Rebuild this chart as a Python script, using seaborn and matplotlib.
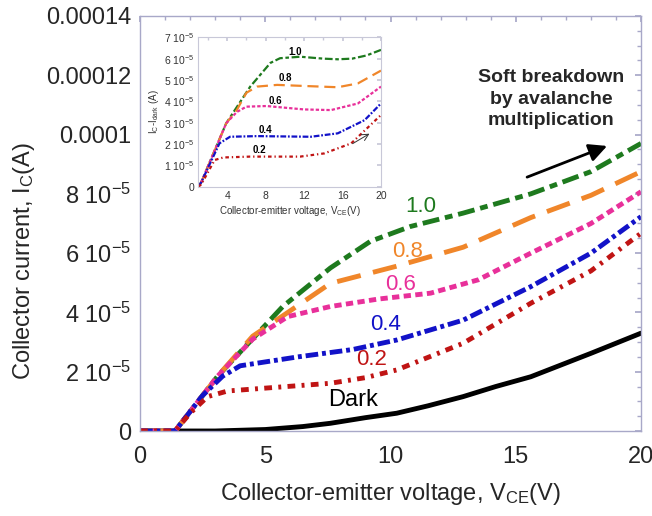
import numpy as np
import pandas as pd
import seaborn as sns
import matplotlib
matplotlib.use("Agg")
import matplotlib.pyplot as plt
from matplotlib.ticker import MultipleLocator

# main plot data: V_CE (V) and I_C (units of 1e-5 A)
v_10 = [0, 1.4, 3.1, 5.7, 7.6, 9.2, 10.8, 12.9, 15.6, 18, 20]
i_10 = [0, 0, 1.85, 4.2, 5.5, 6.4, 6.9, 7.35, 8.0, 8.75, 9.7]
v_08 = [0, 1.4, 3.1, 4.5, 5.9, 7.6, 10.2, 12.9, 15.6, 18, 20]
i_08 = [0, 0, 1.85, 3.2, 4.0, 4.98, 5.55, 6.2, 7.2, 7.95, 8.75]
v_06 = [0, 1.4, 3.1, 4.5, 5.9, 7.6, 9.5, 11.6, 13.5, 15.6, 18, 20]
i_06 = [0, 0, 1.85, 3.1, 3.86, 4.2, 4.45, 4.65, 5.1, 6.0, 7.0, 8.07]
v_04 = [0, 1.4, 2.5, 3.3, 4.0, 6.3, 8.5, 10.25, 12.9, 15.6, 18, 20]
i_04 = [0, 0, 1.2, 1.85, 2.2, 2.5, 2.75, 3.07, 3.74, 4.87, 6.0, 7.23]
v_02 = [0, 1.4, 2.0, 2.7, 3.5, 4.9, 7.6, 9.0, 10.25, 12.9, 15.6, 18, 20]
i_02 = [0, 0, 0.6, 1.16, 1.35, 1.44, 1.61, 1.8, 2.06, 2.96, 4.31, 5.4, 6.67]
v_dark = [0, 3, 5, 6.5, 7.6, 9, 10.25, 11.5, 12.9, 14.2, 15.6, 18, 20]
i_dark = [0, 0, 0.05, 0.15, 0.26, 0.45, 0.6, 0.85, 1.16, 1.5, 1.83, 2.62, 3.3]

# inset data: I_C - I_dark (units of 1e-5 A)
iv_10 = [1, 1.3, 3.9, 6.4, 8.5, 9.5, 11.6, 14, 15.5, 17, 18.5, 20]
ii_10 = [0, 0.2, 2.97, 4.69, 5.8, 6.02, 6.09, 6.0, 5.97, 6.0, 6.15, 6.41]
iv_08 = [1, 1.3, 3.9, 5.0, 6.0, 7.1, 9.2, 12, 15.5, 17.6, 20]
ii_08 = [0, 0.2, 2.97, 3.59, 4.4, 4.69, 4.77, 4.72, 4.66, 4.84, 5.44]
iv_06 = [1, 1.3, 3.9, 5.0, 6.0, 8.1, 12, 14.8, 17.6, 20]
ii_06 = [0, 0.2, 2.97, 3.5, 3.75, 3.78, 3.62, 3.59, 3.9, 4.69]
iv_04 = [1, 1.3, 3.2, 4.3, 7.1, 12.7, 15.5, 18.3, 20]
ii_04 = [0, 0.2, 2.03, 2.34, 2.37, 2.34, 2.5, 3.12, 3.9]
iv_02 = [1, 1.3, 2.7, 3.6, 6.4, 11.6, 14.1, 16.9, 20]
ii_02 = [0, 0.1, 1.25, 1.37, 1.41, 1.41, 1.56, 2.03, 3.36]

main_yticks = [0, 2e-5, 4e-5, 6e-5, 8e-5, 1e-4, 1.2e-4, 1.4e-4]
main_ylabels = ["0", "2 10$^{-5}$", "4 10$^{-5}$", "6 10$^{-5}$", "8 10$^{-5}$",
                "0.0001", "0.00012", "0.00014"]
inset_yticks = [0, 1e-5, 2e-5, 3e-5, 4e-5, 5e-5, 6e-5, 7e-5]
inset_ylabels = ["0"] + [f"{k} 10$^{{-5}}$" for k in range(1, 8)]

sns.set_theme(style="white")
plt.rcParams["font.family"] = ["Liberation Sans", "DejaVu Sans"]
plt.rcParams["mathtext.default"] = "regular"

styles = {
    "1.0": ("#1e7a1e", (0, (3.5, 1.2, 1.6, 1.2))),
    "0.8": ("#f0862a", (0, (5, 2.6))),
    "0.6": ("#e8309a", (0, (1.5, 0.9))),
    "0.4": ("#1212c8", (0, (2.6, 0.8, 0.8, 0.8))),
    "0.2": ("#c01414", (0, (1.6, 1.3, 0.6, 1.3))),
}

fig = plt.figure(figsize=(6.52, 5.16), dpi=100)
ax = fig.add_axes([140 / 652, 85 / 516, 501 / 652, 415 / 516])

main_series = [("1.0", v_10, i_10), ("0.8", v_08, i_08), ("0.6", v_06, i_06),
               ("0.4", v_04, i_04), ("0.2", v_02, i_02)]
sns.lineplot(x=v_dark, y=np.array(i_dark) * 1e-5, ax=ax, color="black", lw=3.5)
for key, v, i in main_series:
    col, ls = styles[key]
    sns.lineplot(x=v, y=np.array(i) * 1e-5, ax=ax, color=col, lw=3.5, linestyle=ls)

ax.set_xlim(0, 20)
ax.set_ylim(0, 1.4e-4)
ax.set_xticks([0, 5, 10, 15, 20])
ax.set_yticks(main_yticks, main_ylabels)
ax.xaxis.set_minor_locator(MultipleLocator(1))
ax.yaxis.set_minor_locator(MultipleLocator(0.5e-5))
edge = "#a8a8c8"
for s in ax.spines.values():
    s.set_color(edge)
    s.set_linewidth(1.0)
ax.tick_params(which="both", direction="in", top=True, right=True, color=edge,
               labelsize=17, pad=6)
ax.tick_params(axis="x", which="major", pad=11)
ax.tick_params(which="major", length=4)
ax.tick_params(which="minor", length=3)
ax.set_xlabel("Collector-emitter voltage, V$_{CE}$(V)", fontsize=17, labelpad=9)
ax.set_ylabel("Collector current, I$_C$(A)", fontsize=17)
ax.yaxis.set_label_coords(-0.205, 0.41)

labels_main = [("1.0", 11.2, 7.57), ("0.8", 10.7, 6.05), ("0.6", 10.4, 4.93),
               ("0.4", 9.8, 3.58), ("0.2", 9.25, 2.4)]
for key, x, y in labels_main:
    ax.text(x, y * 1e-5, key, color=styles[key][0], fontsize=16, ha="center", va="center")
ax.text(8.5, 1.05e-5, "Dark", color="black", fontsize=17, ha="center", va="center")

ax.annotate("", xy=(18.75, 9.65e-5), xytext=(15.35, 8.53e-5),
            arrowprops=dict(arrowstyle="-|>,head_length=0.9,head_width=0.45",
                            color="black", lw=2))
ax.text(16.4, 11.2e-5, "Soft breakdown\nby avalanche\nmultiplication", fontsize=14,
        fontweight="bold", ha="center", va="center", linespacing=1.32)

# inset
fig.patches.append(plt.Rectangle((165 / 652, 1 - 222 / 516), 222 / 652, 198 / 516,
                                 transform=fig.transFigure, facecolor="white",
                                 edgecolor="none", zorder=2))
ins = fig.add_axes([198.3 / 652, 1 - 186.7 / 516, 182.7 / 652, 149.4 / 516], zorder=3)
inset_series = [("1.0", iv_10, ii_10), ("0.8", iv_08, ii_08), ("0.6", iv_06, ii_06),
                ("0.4", iv_04, ii_04), ("0.2", iv_02, ii_02)]
for key, v, i in inset_series:
    col, ls = styles[key]
    sns.lineplot(x=v, y=np.array(i) * 1e-5, ax=ins, color=col, lw=1.6, linestyle=ls)
ins.set_xlim(1, 20)
ins.set_ylim(0, 7e-5)
ins.set_xticks([4, 8, 12, 16, 20])
ins.set_yticks(inset_yticks, inset_ylabels)
ins.xaxis.set_minor_locator(MultipleLocator(2))
for s in ins.spines.values():
    s.set_color("#c8c8d8")
    s.set_linewidth(0.8)
ins.tick_params(which="both", direction="in", top=True, right=True, color="#c8c8d8",
                labelsize=7.5, pad=3, labelcolor="#333333")
ins.tick_params(which="major", length=3)
ins.tick_params(which="minor", length=2)
ins.set_xlabel("Collector-emitter voltage, V$_{CE}$(V)", fontsize=7, labelpad=2,
               color="#333333")
ins.set_ylabel("I$_C$-I$_{dark}$ (A)", fontsize=7, labelpad=2, color="#333333")
inset_labels = [("1.0", 11.1, 6.3), ("0.8", 10.05, 5.08), ("0.6", 9.0, 4.0),
                ("0.4", 7.96, 2.66), ("0.2", 7.4, 1.72)]
for key, x, y in inset_labels:
    ins.text(x, y * 1e-5, key, color="black", fontsize=7, fontweight="bold",
             ha="center", va="center")
ins.annotate("", xy=(19.05, 2.55e-5), xytext=(16.8, 1.95e-5),
             arrowprops=dict(arrowstyle="->", color="#333333", lw=0.7))

fig.savefig("out.png", dpi=100)
